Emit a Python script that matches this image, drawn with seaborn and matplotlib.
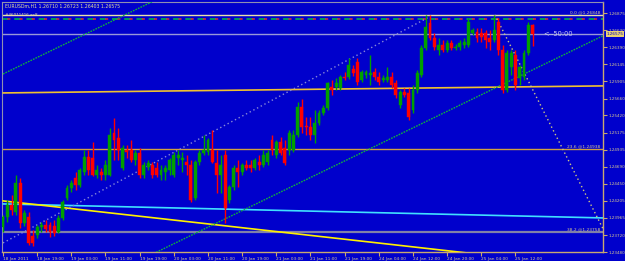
import numpy as np
import pandas as pd
import matplotlib
matplotlib.use("Agg")
import matplotlib.pyplot as plt
import seaborn as sns

# ---------------- data ----------------
bar = list(range(125))
opens = [1.2384,1.2398,1.2415,1.2405,1.2446,1.2389,1.2398,1.2371,1.2372,1.2384,
         1.2386,1.2386,1.2385,1.2377,1.2396,1.2425,1.2439,1.2453,1.2443,1.2462,
         1.2483,1.2482,1.2458,1.2462,1.2458,1.2458,1.2517,1.2510,1.2468,1.2493,
         1.2493,1.2479,1.2489,1.2458,1.2469,1.2472,1.2468,1.2458,1.2462,1.2465,
         1.2458,1.2482,1.2479,1.2476,1.2472,1.2425,1.2476,1.2489,1.2490,1.2493,
         1.2475,1.2458,1.2486,1.2422,1.2440,1.2468,1.2462,1.2472,1.2472,1.2468,
         1.2476,1.2472,1.2476,1.2507,1.2486,1.2504,1.2496,1.2493,1.2493,1.2514,
         1.2554,1.2527,1.2526,1.2514,1.2531,1.2546,1.2553,1.2582,1.2582,1.2581,
         1.2597,1.2597,1.2608,1.2618,1.2592,1.2600,1.2600,1.2604,1.2597,1.2592,
         1.2592,1.2597,1.2588,1.2557,1.2575,1.2574,1.2550,1.2578,1.2600,1.2638,
         1.2673,1.2652,1.2635,1.2642,1.2635,1.2645,1.2638,1.2639,1.2642,1.2642,
         1.2659,1.2661,1.2659,1.2659,1.2652,1.2649,1.2675,1.2635,1.2578,1.2611,
         1.2628,1.2595,1.2597,1.2631,1.26710]
highs = [1.2401,1.2422,1.2429,1.2458,1.2453,1.2408,1.2405,1.2379,1.2386,1.2391,
         1.2394,1.2391,1.2394,1.2401,1.2422,1.2443,1.2450,1.2462,1.2468,1.2493,
         1.2493,1.2504,1.2472,1.2468,1.2479,1.2524,1.2538,1.2524,1.2500,1.2500,
         1.2507,1.2493,1.2496,1.2476,1.2479,1.2476,1.2476,1.2472,1.2472,1.2482,
         1.2490,1.2493,1.2490,1.2486,1.2479,1.2479,1.2493,1.2514,1.2510,1.2521,
         1.2493,1.2486,1.2493,1.2443,1.2472,1.2479,1.2475,1.2479,1.2479,1.2482,
         1.2486,1.2493,1.2493,1.2514,1.2507,1.2511,1.2507,1.2521,1.2521,1.2561,
         1.2565,1.2540,1.2540,1.2550,1.2550,1.2557,1.2590,1.2592,1.2595,1.2600,
         1.2604,1.2624,1.2614,1.2624,1.2607,1.2607,1.2628,1.2609,1.2604,1.2600,
         1.2611,1.2604,1.2592,1.2578,1.2581,1.2581,1.2585,1.2607,1.2642,1.2685,
         1.2685,1.2659,1.2652,1.2649,1.2649,1.2649,1.2644,1.2649,1.2652,1.2680,
         1.2666,1.2666,1.2666,1.2663,1.2663,1.26848,1.2680,1.2642,1.2635,1.2635,
         1.2635,1.2614,1.2635,1.2675,1.26723]
lows = [1.2377,1.2391,1.2401,1.2401,1.2382,1.2385,1.2358,1.2357,1.2368,1.2377,
        1.2377,1.2369,1.2371,1.2375,1.2394,1.2422,1.2433,1.2436,1.2440,1.2458,
        1.2458,1.2456,1.2453,1.2450,1.2450,1.2456,1.2479,1.2479,1.2465,1.2482,
        1.2476,1.2472,1.2453,1.2453,1.2465,1.2453,1.2455,1.2450,1.2450,1.2458,
        1.2455,1.2472,1.2462,1.2458,1.2419,1.2422,1.2472,1.2486,1.2486,1.2475,
        1.2432,1.2432,1.2389,1.2418,1.2436,1.2440,1.2458,1.2465,1.2462,1.2465,
        1.2465,1.2469,1.2472,1.2486,1.2482,1.2486,1.2472,1.2486,1.2490,1.2511,
        1.2517,1.2514,1.2507,1.2503,1.2528,1.2543,1.2550,1.2571,1.2578,1.2578,
        1.2592,1.2594,1.2598,1.2585,1.2590,1.2595,1.2585,1.2592,1.2585,1.2590,
        1.2590,1.2581,1.2567,1.2553,1.2568,1.2536,1.2546,1.2574,1.2597,1.2635,
        1.2649,1.2635,1.2628,1.2632,1.2632,1.2635,1.2635,1.2635,1.2638,1.2639,
        1.2656,1.2646,1.2646,1.2638,1.2635,1.2646,1.2628,1.2574,1.2575,1.2600,
        1.2578,1.2585,1.2592,1.2628,1.26403]
closes = [1.2398,1.2415,1.2408,1.2446,1.2389,1.2404,1.2361,1.2361,1.2384,1.2386,
          1.2381,1.2377,1.2375,1.2396,1.2419,1.2439,1.2446,1.2443,1.2465,1.2483,
          1.2465,1.2458,1.2465,1.2458,1.2472,1.2514,1.2507,1.2493,1.2496,1.2490,
          1.2479,1.2489,1.2458,1.2472,1.2475,1.2458,1.2458,1.2465,1.2468,1.2479,
          1.2486,1.2486,1.2482,1.2472,1.2422,1.2476,1.2489,1.2493,1.2507,1.2476,
          1.2458,1.2472,1.2411,1.2440,1.2468,1.2462,1.2472,1.2468,1.2468,1.2479,
          1.2472,1.2486,1.2489,1.2493,1.2504,1.2489,1.2475,1.2517,1.2514,1.2554,
          1.2526,1.2526,1.2514,1.2531,1.2546,1.2553,1.2588,1.2578,1.2588,1.2597,
          1.2595,1.2614,1.2602,1.2590,1.2604,1.2604,1.2602,1.2597,1.2590,1.2595,
          1.2597,1.2585,1.2571,1.2575,1.2571,1.2540,1.2578,1.2602,1.2638,1.2668,
          1.2652,1.2639,1.2642,1.2635,1.2645,1.2638,1.2639,1.2645,1.2646,1.2675,
          1.2663,1.2652,1.2653,1.2649,1.2646,1.2663,1.2635,1.2578,1.2631,1.2631,
          1.2585,1.2611,1.2631,1.2670,1.26575]

time_ticks = [0, 8, 16, 24, 32, 40, 48, 56, 64, 72, 80, 88, 96, 104, 112, 120]
time_labels = ["18 Jan 2011", "18 Jan 19:00", "19 Jan 03:00", "19 Jan 11:00",
               "19 Jan 19:00", "20 Jan 03:00", "20 Jan 11:00", "20 Jan 19:00",
               "21 Jan 03:00", "21 Jan 11:00", "21 Jan 19:00", "24 Jan 04:00",
               "24 Jan 12:00", "24 Jan 20:00", "25 Jan 04:00", "25 Jan 12:00"]
price_ticks = [1.26875, 1.26630, 1.26390, 1.26145, 1.25905, 1.25660, 1.25420,
               1.25175, 1.24935, 1.24690, 1.24450, 1.24205, 1.23965, 1.23720, 1.23480]

fib_levels = [0.0, 23.6, 38.2]
fib_prices = [1.26848, 1.24938, 1.23758]
bid_price = 1.26575
alert_price = 1.26790

# trend lines: (x0, y0, x1, y1) in bar index / price
gold_line = [0.0, 1.25740, 140.5, 1.25840]
cyan_line = [0.0, 1.24163, 140.5, 1.23964]
yellow_line = [0.0, 1.24206, 140.5, 1.23250]
chan_upper = [0.0, 1.26009, 140.5, 1.30140]
chan_lower = [0.0, 1.22421, 140.5, 1.26552]
blue_dotted = [0.0, 1.23609, 99.5, 1.26810]
fib_diag = [115.2, 1.26848, 142.0, 1.23630]

title_text = "EURUSDm,H1 1.26710 1.26723 1.26403 1.26575"
object_text = "#46011416 ex8"
timer_text = "<--50:00"

# ---------------- style ----------------
BG = "#0000CC"
AX = "#C8A870"
LAB = "#D8C890"
UP = "#00A000"
DN = "#FF0000"

sns.set_theme(style="dark", rc={"axes.facecolor": BG, "figure.facecolor": BG})
plt.rcParams["font.family"] = ["DejaVu Sans"]

fig = plt.figure(figsize=(6.25, 2.61), dpi=100, facecolor=BG)
ax = fig.add_axes([2 / 625, 9 / 261, 601 / 625, 250 / 261])
ax.set_facecolor(BG)

# horizontal levels
ax.axhline(fib_prices[0], color="#E8E0A8", lw=1.0, zorder=2)
ax.axhline(fib_prices[1], color="#D0A040", lw=1.0, zorder=2)
ax.axhline(fib_prices[2], color="#8080A8", lw=1.6, zorder=2)
ax.axhline(bid_price, color="#9898D8", lw=1.0, zorder=2)
ax.axhline(alert_price, color="#00C040", lw=1.1, ls=(0, (4, 4)), zorder=2)
ax.axhline(alert_price, color="#E03030", lw=1.1, ls=(4.5, (2, 6)), zorder=2)

# trend lines via seaborn
def seg(name, c):
    return pd.DataFrame({"x": [c[0], c[2]], "y": [c[1], c[3]], "line": name})

lines = pd.concat([seg("gold", gold_line), seg("cyan", cyan_line),
                   seg("yellow", yellow_line)])
sns.lineplot(data=lines, x="x", y="y", hue="line", units="line", estimator=None,
             palette={"gold": "#F0C030", "cyan": "#40E0FF", "yellow": "#FFF000"},
             lw=1.2, legend=False, ax=ax, zorder=3, sort=False)
dots = pd.concat([seg("up", chan_upper), seg("lo", chan_lower)])
sns.lineplot(data=dots, x="x", y="y", units="line", estimator=None, color="#10B040",
             lw=1.0, ls=(0, (1.2, 0.8)), legend=False, ax=ax, zorder=3, sort=False)
sns.lineplot(data=seg("b", blue_dotted), x="x", y="y", color="#8888D8",
             lw=1.0, ls=(0, (1, 2)), legend=False, ax=ax, zorder=3)
sns.lineplot(data=seg("f", fib_diag), x="x", y="y", color="#D0C880",
             lw=1.0, ls=(0, (1, 2)), legend=False, ax=ax, zorder=3)

# candles
o = np.array(opens); h = np.array(highs); l = np.array(lows); c = np.array(closes)
up = c >= o
cols = np.where(up, UP, DN)
ax.vlines(bar, l, h, colors=cols, lw=1.0, zorder=4)
body_lo = np.minimum(o, c)
body_h = np.maximum(np.abs(c - o), 0.00006)
ax.bar(bar, body_h, bottom=body_lo, width=0.68, color=cols, edgecolor=cols,
       lw=0.3, zorder=5)

# axes
ax.set_xlim(-0.23, 140.5)
ax.set_ylim(1.23480, 1.27032)
ax.yaxis.tick_right()
ax.set_yticks(price_ticks)
ax.set_yticklabels([f"{p:.5f}" for p in price_ticks])
ax.set_xticks(time_ticks)
ax.set_xticklabels(time_labels)
for lab in ax.get_xticklabels():
    lab.set_horizontalalignment("left")
ax.tick_params(axis="y", left=False, right=True, colors=AX, labelcolor=LAB,
               labelsize=3.0, length=3, width=0.8, direction="out", pad=1.0)
ax.tick_params(axis="x", bottom=True, colors=AX, labelcolor=LAB,
               labelsize=3.1, length=3, width=0.8, direction="out", pad=0.3)
ax.set_xlabel(""); ax.set_ylabel("")
ax.grid(False)
for s in ["top", "left"]:
    ax.spines[s].set_color("#9090B0"); ax.spines[s].set_linewidth(0.8)
for s in ["right", "bottom"]:
    ax.spines[s].set_color(AX); ax.spines[s].set_linewidth(1.0)

# texts
fig.text(5 / 625, 1 - 6 / 261, title_text, color="#E8E0A0", fontsize=3.3,
         va="center", ha="left")
fig.text(5 / 625, 1 - 15 / 261, object_text, color="#E8E0A0", fontsize=3.0,
         va="center", ha="left")
for lv, pr in zip(fib_levels, fib_prices):
    ax.text(139.8, pr + 0.00012, f"{lv:.1f} @{pr:.5f}", color=LAB,
            fontsize=3.2, ha="right", va="bottom")
ax.text(126.5, bid_price, timer_text, color="#C8C8F0", fontsize=4.8,
        ha="left", va="center")
ax.text(1.006, bid_price, f"{bid_price:.5f}", transform=ax.get_yaxis_transform(),
        color="#0000CC", fontsize=3.0, ha="left", va="center",
        bbox=dict(boxstyle="square,pad=0.2", fc="#E8D070", ec="none"))

fig.savefig("out.png", dpi=100, facecolor=BG)
